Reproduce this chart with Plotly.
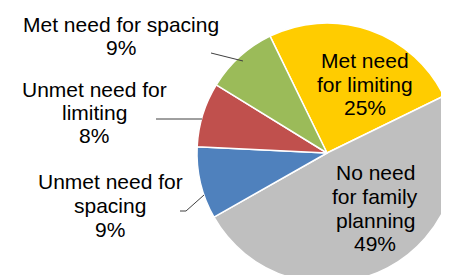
import plotly.graph_objects as go

# ---- data ----
categories = ["Met need for limiting", "No need for family planning",
              "Unmet need for spacing", "Unmet need for limiting",
              "Met need for spacing"]
values = [25, 49, 9, 8, 9]
colors = ["#FFCC00", "#BFBFBF", "#4F81BD", "#C0504D", "#9BBB59"]
# label line breaks as shown on the chart
label_lines = [
    ["Met need", "for limiting"],
    ["No need", "for family", "planning"],
    ["Unmet need for", "spacing"],
    ["Unmet need for", "limiting"],
    ["Met need for spacing"],
]

W, H = 449, 275

def px(x):
    return x / W

def py(y):
    return 1 - y / H

fig = go.Figure(go.Pie(
    labels=categories,
    values=values,
    sort=False,
    direction="clockwise",
    rotation=-26,
    marker=dict(colors=colors, line=dict(color="white", width=1.5)),
    textinfo="none",
    hoverinfo="skip",
    showlegend=False,
    domain=dict(x=[189 / W, 1.0], y=[0.0, 260 / H]),
))

# label placement: (center x, first baseline, line gap) in pixels
label_pos = [
    (357, 68, 23.5),
    (367, 180, 23.8),
    (102, 189, 24),
    (86, 97, 23),
    (113, 32, 23),
]

annotations = []
for i, (cx, b0, gap) in enumerate(label_pos):
    lines = label_lines[i] + [f"{values[i]}%"]
    for k, t in enumerate(lines):
        base = b0 + k * gap
        annotations.append(dict(
            x=px(cx), y=py(base - 15.5), xref="paper", yref="paper",
            text=t, showarrow=False, xanchor="center", yanchor="middle",
            font=dict(family="Liberation Sans, Arial", size=21, color="#000000"),
        ))

line_style = dict(color="#404040", width=1)
shapes = [
    dict(type="path", xref="paper", yref="paper",
         path=f"M {px(203)} {py(45)} L {px(235)} {py(53)}", line=line_style),
    dict(type="path", xref="paper", yref="paper",
         path=f"M {px(148)} {py(111)} L {px(194)} {py(111)}", line=line_style),
    dict(type="path", xref="paper", yref="paper",
         path=f"M {px(172)} {py(203)} L {px(178)} {py(203)} L {px(196)} {py(187)}",
         line=line_style),
]

fig.update_layout(
    width=W, height=H,
    margin=dict(l=0, r=0, t=0, b=0),
    paper_bgcolor="white", plot_bgcolor="white",
    annotations=annotations,
    shapes=shapes,
)

fig.write_html("out.html")
